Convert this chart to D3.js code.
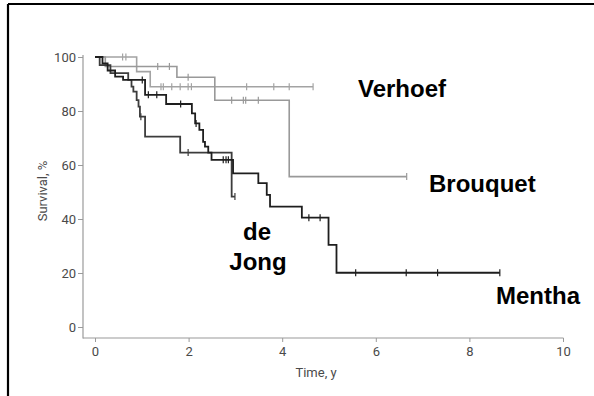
<!DOCTYPE html>
<html>
<head>
<meta charset="utf-8">
<script src="https://cdn.jsdelivr.net/npm/d3@7/dist/d3.min.js"></script>
<style>
  body { margin: 0; background: #fff; }
  svg { display: block; }
</style>
</head>
<body>
<svg id="chart" width="594" height="396"></svg>
<script>
// Axis ticks
const xTicks = [0, 2, 4, 6, 8, 10];
const yTicks = [0, 20, 40, 60, 80, 100];

// Kaplan-Meier curves: event times (y), survival (%) after each event,
// censoring times and follow-up end.
const verhoefTimes  = [0.89, 1.18];
const verhoefSurv   = [94.6, 89];
const verhoefCensor = [0.59, 0.66, 1.41, 1.46, 1.64, 1.82, 1.99, 2.06, 3.24, 3.82, 4.15, 4.66];
const verhoefEnd    = 4.66;

const brouquetTimes  = [0.22, 1.75, 2.56, 4.15];
const brouquetSurv   = [96.5, 92.5, 84, 55.7];
const brouquetCensor = [1.34, 1.59, 1.99, 2.92, 3.17, 3.22, 3.49, 6.66];
const brouquetEnd    = 6.66;

const dejongTimes  = [0.1, 0.33, 0.71, 0.78, 0.82, 0.89, 0.93, 0.96, 1.07, 1.82, 2.92];
const dejongSurv   = [97, 94, 91.5, 89, 87.2, 84, 81.6, 77.9, 70.5, 64.6, 48.3];
const dejongCensor = [0.98, 1.99, 2.99];
const dejongEnd    = 2.99;

const menthaTimes  = [0.16, 0.27, 0.43, 0.6, 1.07, 1.52, 2.07, 2.14, 2.23, 2.31, 2.35, 2.42, 2.49, 2.95, 3.49, 3.67, 3.74, 4.42, 4.99, 5.16];
const menthaSurv   = [97.6, 95, 92.7, 91.5, 86, 82.6, 79.1, 75.4, 73, 68.6, 66.8, 64.6, 61.9, 56.9, 53.3, 48.9, 44.6, 40.5, 30.4, 20.1];
const menthaCensor = [1.01, 1.14, 1.32, 1.83, 2.16, 2.74, 2.80, 2.85, 4.57, 4.81, 5.57, 6.65, 7.32, 8.65];
const menthaEnd    = 8.65;

const seriesNames = ["Verhoef", "Brouquet", "de Jong", "Mentha"];

const curves = [
  { name: seriesNames[0], times: verhoefTimes, surv: verhoefSurv, censor: verhoefCensor, end: verhoefEnd, color: "#a3a3a3", width: 1.6 },
  { name: seriesNames[1], times: brouquetTimes, surv: brouquetSurv, censor: brouquetCensor, end: brouquetEnd, color: "#999999", width: 1.6 },
  { name: seriesNames[2], times: dejongTimes, surv: dejongSurv, censor: dejongCensor, end: dejongEnd, color: "#3c3c3c", width: 1.8 },
  { name: seriesNames[3], times: menthaTimes, surv: menthaSurv, censor: menthaCensor, end: menthaEnd, color: "#1e1e1e", width: 1.8 }
];

const svg = d3.select("#chart");

// Frame lines along the left and top edges
svg.append("line").attr("x1", 8).attr("y1", 4).attr("x2", 594).attr("y2", 4)
  .attr("stroke", "#000").attr("stroke-width", 2.2);
svg.append("line").attr("x1", 8).attr("y1", 4).attr("x2", 8).attr("y2", 396)
  .attr("stroke", "#000").attr("stroke-width", 2.2);

const x = d3.scaleLinear().domain([0, 10]).range([95, 563]);
const y = d3.scaleLinear().domain([0, 100]).range([327, 57]);

const axisColor = "#9a9a9a";
const tickFont = "Roboto, 'Liberation Sans', sans-serif";

// Y axis
const yAxisX = 83;
const gy = svg.append("g").attr("transform", `translate(${yAxisX},0)`)
  .call(d3.axisLeft(y).tickValues(yTicks).tickSize(5).tickPadding(2));
gy.select(".domain").remove();
gy.append("line").attr("x1", 0).attr("x2", 0).attr("y1", 55).attr("y2", 338.5)
  .attr("stroke", axisColor).attr("stroke-width", 1.2);

// X axis
const xAxisY = 338;
const gx = svg.append("g").attr("transform", `translate(0,${xAxisY})`)
  .call(d3.axisBottom(x).tickValues(xTicks).tickSize(4).tickPadding(5));
gx.select(".domain").remove();
gx.append("line").attr("x1", yAxisX).attr("x2", 563.5).attr("y1", 0).attr("y2", 0)
  .attr("stroke", axisColor).attr("stroke-width", 1.2);

[gx, gy].forEach(g => {
  g.selectAll(".tick line").attr("stroke", axisColor).attr("stroke-width", 1);
  g.selectAll(".tick text").attr("fill", "#4a4a4a").style("font-family", tickFont).style("font-size", "13px");
});

// Axis titles
svg.append("text").attr("x", 316).attr("y", 377).attr("text-anchor", "middle")
  .style("font-family", tickFont).style("font-size", "13px").attr("fill", "#4a4a4a")
  .text("Time, y");
svg.append("text").attr("transform", `translate(47,${y(50) - 1}) rotate(-90)`)
  .attr("text-anchor", "middle")
  .style("font-family", tickFont).style("font-size", "13px").attr("fill", "#4a4a4a")
  .text("Survival, %");

// Survival step function for a curve
function survAt(c, t) {
  let s = 100;
  c.times.forEach((tt, i) => { if (tt <= t) s = c.surv[i]; });
  return s;
}

const line = d3.line().x(d => x(d[0])).y(d => y(d[1])).curve(d3.curveStepAfter);

curves.forEach(c => {
  const pts = [[0, 100]];
  c.times.forEach((t, i) => pts.push([t, c.surv[i]]));
  pts.push([c.end, c.surv[c.surv.length - 1]]);
  svg.append("path").attr("d", line(pts)).attr("fill", "none")
    .attr("stroke", c.color).attr("stroke-width", c.width).attr("stroke-linejoin", "miter");
  svg.append("g").selectAll("line").data(c.censor).join("line")
    .attr("x1", d => x(d)).attr("x2", d => x(d))
    .attr("y1", d => y(survAt(c, d)) - 3.5).attr("y2", d => y(survAt(c, d)) + 3.5)
    .attr("stroke", c.color).attr("stroke-width", 1.2);
});

// Series labels
const labelFont = "'Liberation Sans', Arial, sans-serif";
const labels = [
  { text: seriesNames[0], x: 358, y: 97 },
  { text: seriesNames[1], x: 429, y: 192 },
  { text: "de", x: 257, y: 240, anchor: "middle" },
  { text: "Jong", x: 258, y: 270, anchor: "middle" },
  { text: seriesNames[3], x: 496, y: 304 }
];
svg.append("g").selectAll("text").data(labels).join("text")
  .attr("x", d => d.x).attr("y", d => d.y)
  .attr("text-anchor", d => d.anchor || "start")
  .style("font-family", labelFont).style("font-weight", "bold").style("font-size", "24px")
  .attr("fill", "#000")
  .text(d => d.text);
</script>
</body>
</html>
